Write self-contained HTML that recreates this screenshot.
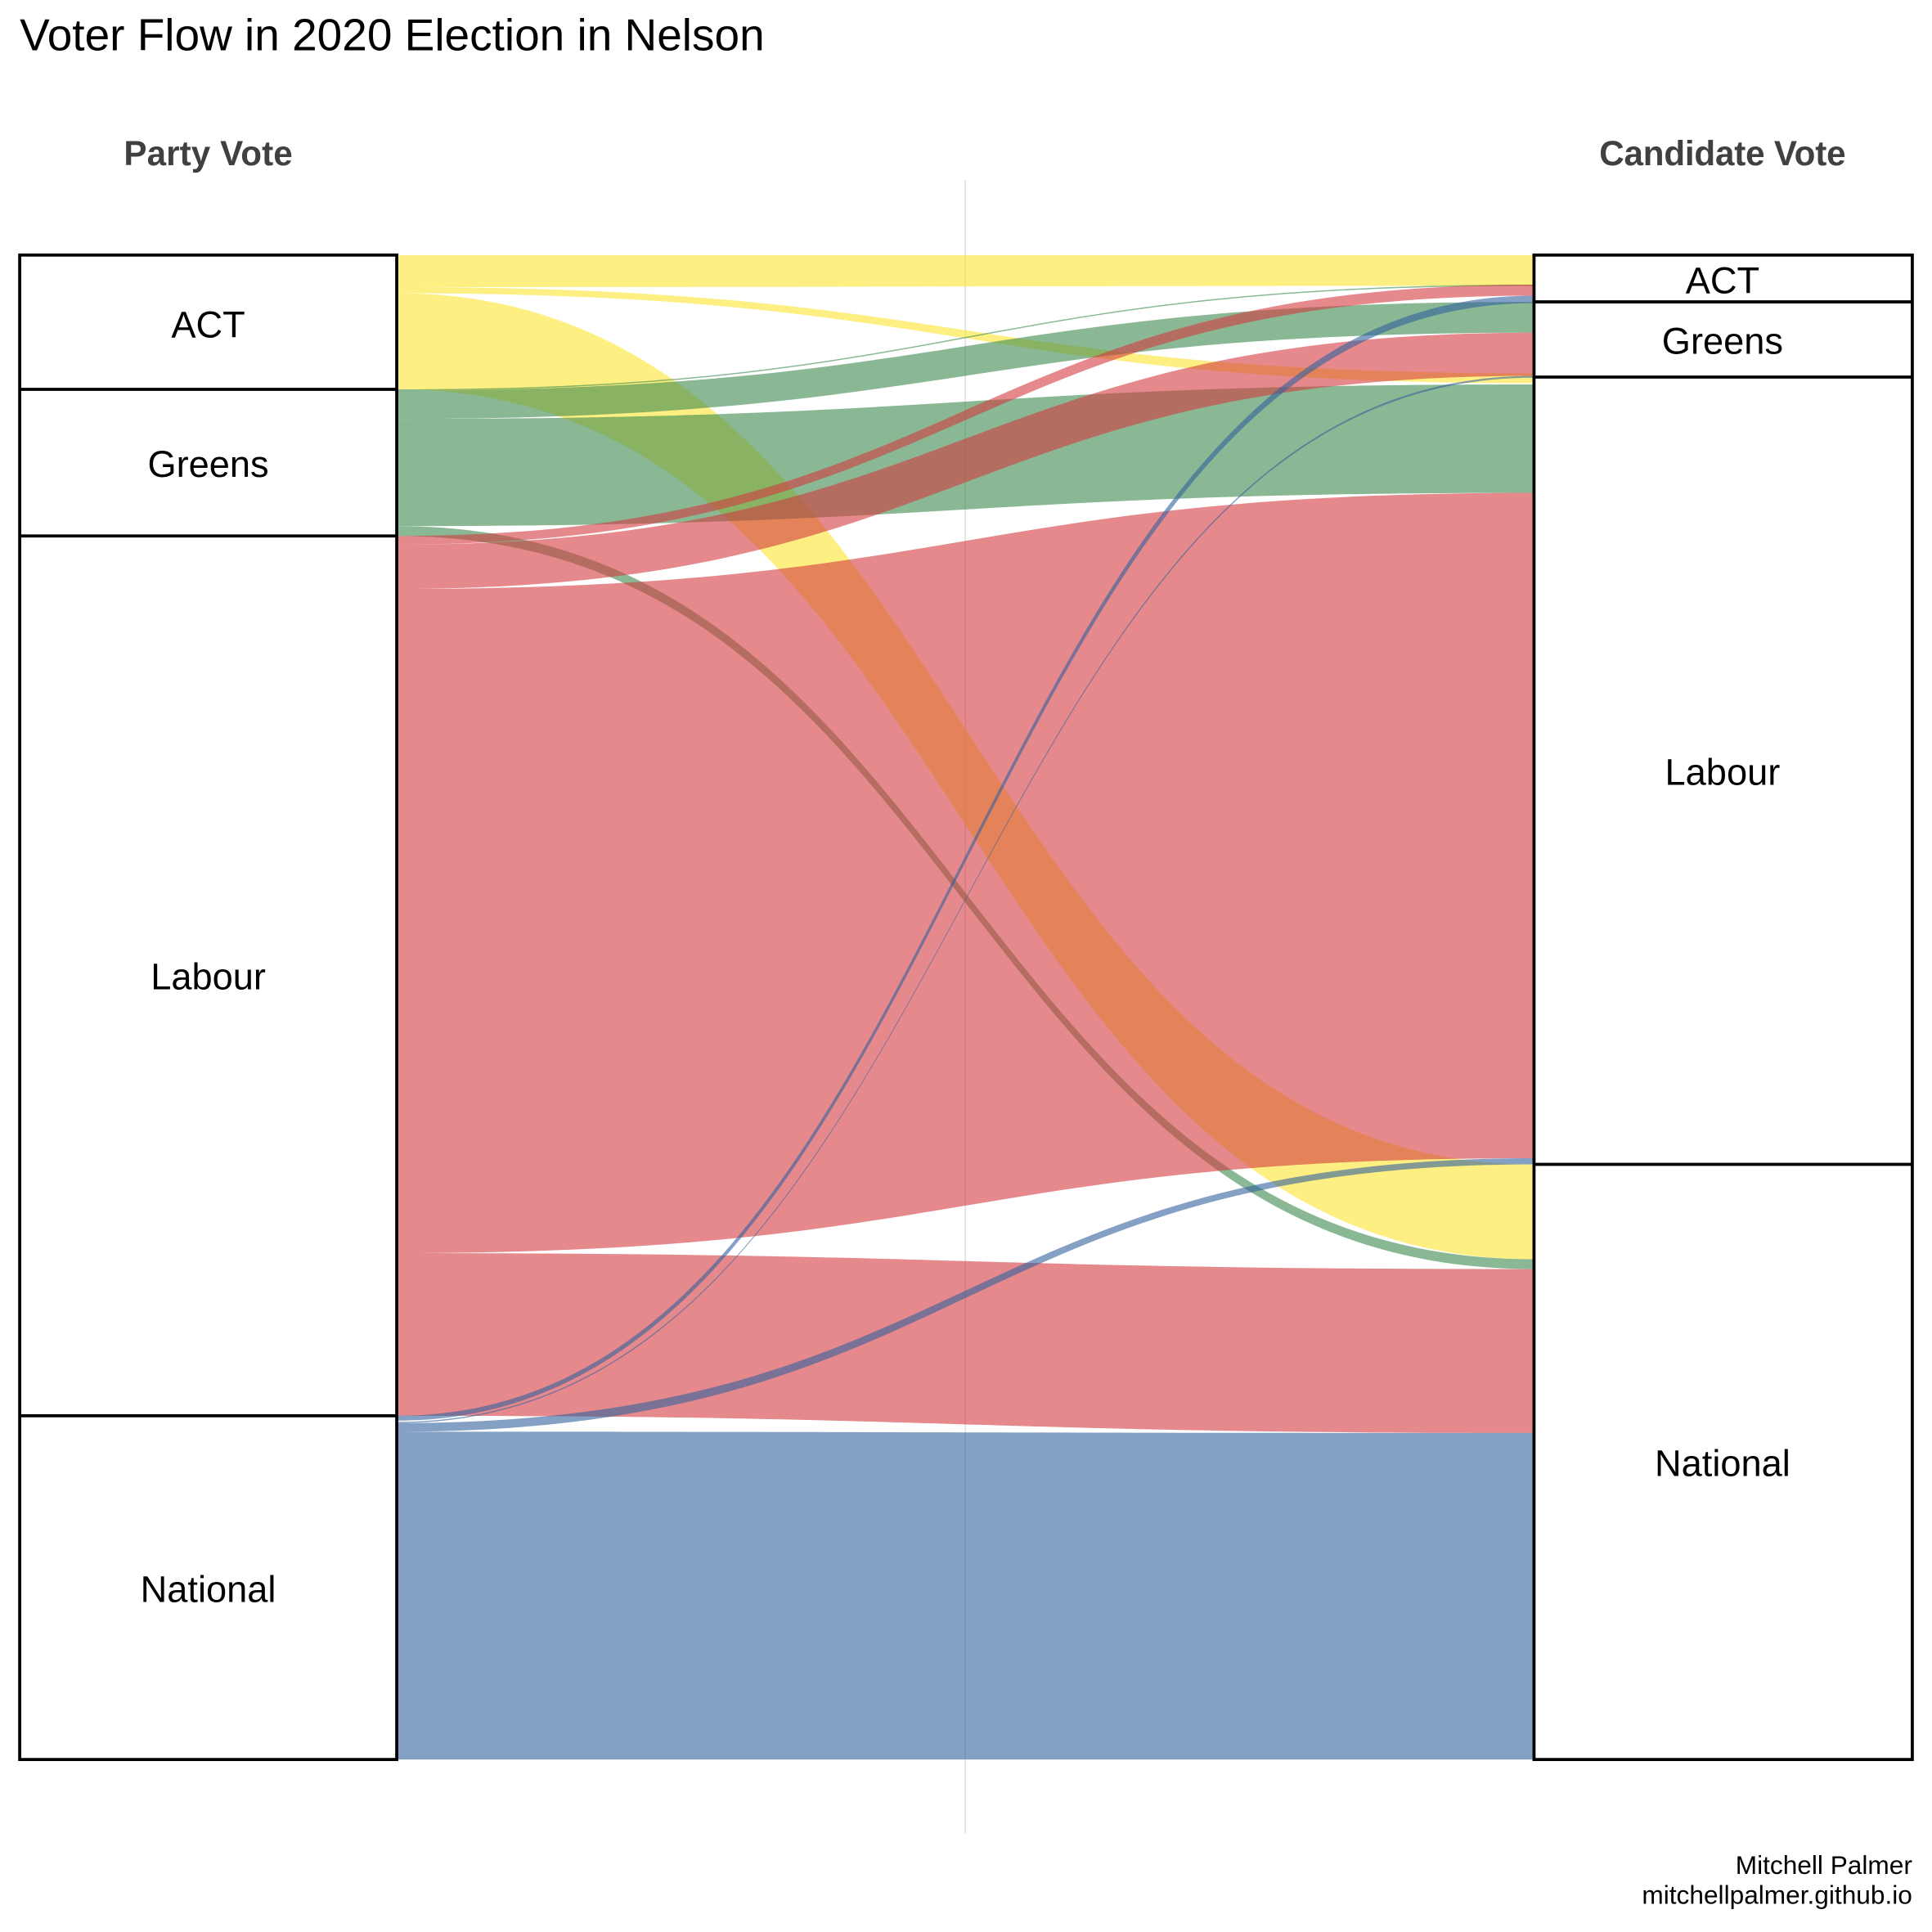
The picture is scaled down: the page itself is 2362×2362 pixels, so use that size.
<!DOCTYPE html>
<html><head><meta charset="utf-8"><style>html,body{margin:0;padding:0;background:#fff}svg{display:block}</style></head>
<body>
<svg width="2362" height="2362" viewBox="0 0 1568 1568" xmlns="http://www.w3.org/2000/svg" font-family="Liberation Sans, Arial, sans-serif">
<rect width="1568" height="1568" fill="#fff"/>
<text x="16" y="41" font-size="36.5" fill="#000">Voter Flow in 2020 Election in Nelson</text>
<text x="169" y="134" font-size="28" font-weight="bold" fill="#404040" text-anchor="middle" textLength="137">Party Vote</text>
<text x="1398" y="134" font-size="28" font-weight="bold" fill="#404040" text-anchor="middle" textLength="200">Candidate Vote</text>
<line x1="783.5" y1="146" x2="783.5" y2="1488" stroke="#ddd" stroke-width="1"/>
<g fill-opacity="0.6">
<path fill="#fce42f" d="M322,207 C783.5,207 783.5,207 1245,207 L1245,231 C783.5,231 783.5,231 322,231 Z"/>
<path fill="#fce42f" d="M322,231 C783.5,231 783.5,231 1245,231 L1245,232 C783.5,232 783.5,233 322,233 Z"/>
<path fill="#fce42f" d="M322,233 C783.5,233 783.5,303 1245,303 L1245,311 C783.5,311 783.5,238 322,238 Z"/>
<path fill="#fce42f" d="M322,238 C783.5,238 783.5,945 1245,945 L1245,1022 C783.5,1022 783.5,316 322,316 Z"/>
<path fill="#3c894e" d="M322,316 C783.5,316 783.5,231 1245,231 L1245,232 C783.5,232 783.5,317 322,317 Z"/>
<path fill="#3c894e" d="M322,317 C783.5,317 783.5,245 1245,245 L1245,270 C783.5,270 783.5,340 322,340 Z"/>
<path fill="#3c894e" d="M322,340 C783.5,340 783.5,312 1245,312 L1245,400 C783.5,400 783.5,427 322,427 Z"/>
<path fill="#3c894e" d="M322,427 C783.5,427 783.5,1022 1245,1022 L1245,1030 C783.5,1030 783.5,435 322,435 Z"/>
<path fill="#d43b3f" d="M322,435 C783.5,435 783.5,231 1245,231 L1245,240 C783.5,240 783.5,442 322,442 Z"/>
<path fill="#d43b3f" d="M322,442 C783.5,442 783.5,270 1245,270 L1245,305 C783.5,305 783.5,478 322,478 Z"/>
<path fill="#d43b3f" d="M322,478 C783.5,478 783.5,400 1245,400 L1245,940 C783.5,940 783.5,1017 322,1017 Z"/>
<path fill="#d43b3f" d="M322,1017 C783.5,1017 783.5,1030 1245,1030 L1245,1163 C783.5,1163 783.5,1149 322,1149 Z"/>
<path fill="#32619e" d="M322,1149 C783.5,1149 783.5,240 1245,240 L1245,246 C783.5,246 783.5,1153 322,1153 Z"/>
<path fill="#32619e" d="M322,1154 C783.5,1154 783.5,305 1245,305 L1245,306.5 C783.5,306.5 783.5,1155 322,1155 Z"/>
<path fill="#32619e" d="M322,1155 C783.5,1155 783.5,940 1245,940 L1245,945 C783.5,945 783.5,1162 322,1162 Z"/>
<path fill="#32619e" d="M322,1162 C783.5,1162 783.5,1163 1245,1163 L1245,1428 C783.5,1428 783.5,1428 322,1428 Z"/>
</g>
<g fill="none" stroke="#000" stroke-width="2.5">
<rect x="16" y="207" width="306" height="1221"/>
<line x1="16" y1="316" x2="322" y2="316"/><line x1="16" y1="435" x2="322" y2="435"/><line x1="16" y1="1149" x2="322" y2="1149"/>
<rect x="1245" y="207" width="307" height="1221"/>
<line x1="1245" y1="245" x2="1552" y2="245"/><line x1="1245" y1="306" x2="1552" y2="306"/><line x1="1245" y1="945" x2="1552" y2="945"/>
</g>
<g font-size="30" fill="#000" text-anchor="middle">
<text x="169" y="274">ACT</text><text x="169" y="387">Greens</text><text x="169" y="803">Labour</text><text x="169" y="1300">National</text>
<text x="1398" y="238">ACT</text><text x="1398" y="287">Greens</text><text x="1398" y="637">Labour</text><text x="1398" y="1198">National</text>
</g>
<text x="1552" y="1521" font-size="21" text-anchor="end">Mitchell Palmer</text>
<text x="1552" y="1545" font-size="21" text-anchor="end">mitchellpalmer.github.io</text>
</svg>
</body></html>
